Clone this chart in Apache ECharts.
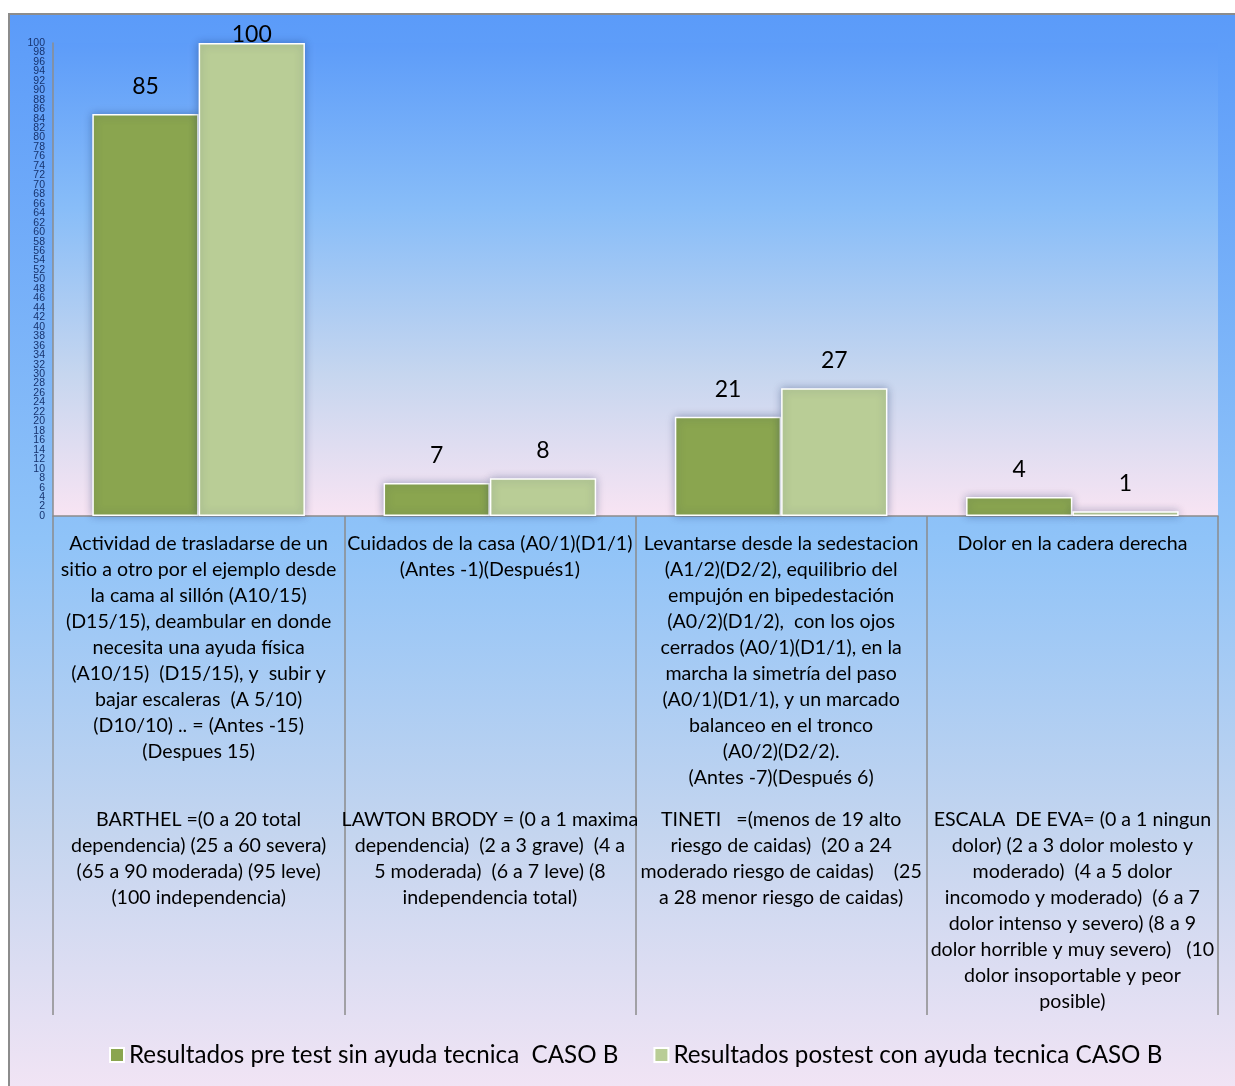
<!DOCTYPE html>
<html>
<head>
<meta charset="utf-8">
<script src="https://cdn.jsdelivr.net/npm/echarts@6/dist/echarts.min.js"></script>
<style>
  html, body { margin: 0; padding: 0; background: #ffffff; }
  #frame {
    position: absolute; left: 8px; top: 13px; width: 1240px; height: 1090px;
    border-left: 2px solid #8c8c8c; border-top: 2px solid #8c8c8c;
    background: linear-gradient(to bottom, #5b9bf9 0%, #8fc3f8 48%, #c4d5ef 75%, #f4e5f5 100%);
  }
  #chart { position: absolute; left: 0; top: 0; width: 1235px; height: 1086px; }
</style>
</head>
<body>
<div id="frame"></div>
<div id="chart"></div>
<script>
// Activities evaluated (main label under each group of bars)
const categories = [
  "Actividad de trasladarse de un\nsitio a otro por el ejemplo desde\nla cama al sillón (A10/15)\n(D15/15), deambular en donde\nnecesita una ayuda física\n(A10/15)  (D15/15), y  subir y\nbajar escaleras  (A 5/10)\n(D10/10) .. = (Antes -15)\n(Despues 15)",
  "Cuidados de la casa (A0/1)(D1/1)\n(Antes -1)(Después1)",
  "Levantarse desde la sedestacion\n(A1/2)(D2/2), equilibrio del\nempujón en bipedestación\n(A0/2)(D1/2),  con los ojos\ncerrados (A0/1)(D1/1), en la\nmarcha la simetría del paso\n(A0/1)(D1/1), y un marcado\nbalanceo en el tronco\n(A0/2)(D2/2).\n(Antes -7)(Después 6)",
  "Dolor en la cadera derecha"
];

// Scale used for each activity (second block of text)
const scales = [
  "BARTHEL =(0 a 20 total\ndependencia) (25 a 60 severa)\n(65 a 90 moderada) (95 leve)\n(100 independencia)",
  "LAWTON BRODY = (0 a 1 maxima\ndependencia)  (2 a 3 grave)  (4 a\n5 moderada)  (6 a 7 leve) (8\nindependencia total)",
  "TINETI   =(menos de 19 alto\nriesgo de caidas)  (20 a 24\nmoderado riesgo de caidas)    (25\na 28 menor riesgo de caidas)",
  "ESCALA  DE EVA= (0 a 1 ningun\ndolor) (2 a 3 dolor molesto y\nmoderado)  (4 a 5 dolor\nincomodo y moderado)  (6 a 7\ndolor intenso y severo) (8 a 9\ndolor horrible y muy severo)   (10\ndolor insoportable y peor\nposible)"
];

const seriesNames = [
  "Resultados pre test sin ayuda tecnica  CASO B",
  "Resultados postest con ayuda tecnica CASO B"
];
const preTest = [85, 7, 21, 4];
const postTest = [100, 8, 27, 1];

const yMin = 0, yMax = 100, yStep = 2;
// tick labels of the value scale, every 2 units from 0 to 100
const yTickLabels = [
  '0','2','4','6','8','10','12','14','16','18','20','22','24','26','28','30','32','34','36','38',
  '40','42','44','46','48','50','52','54','56','58','60','62','64','66','68','70','72','74','76','78',
  '80','82','84','86','88','90','92','94','96','98','100'
];

const FONT = 'Lato';
const chart = echarts.init(document.getElementById('chart'), null, { renderer: 'canvas' });

function toData(values) {
  // a label at the top of the scale sits lower so it stays inside the frame
  return values.map(v => v >= yMax ? { value: v, label: { distance: -3 } } : v);
}

const barStyle = (color) => ({
  color: color,
  borderColor: '#ffffff',
  borderWidth: 1.5,
  shadowColor: 'rgba(20,40,90,0.35)',
  shadowBlur: 8
});

const valueLabel = {
  show: true, position: 'top', distance: 16,
  fontFamily: FONT, fontSize: 23, color: '#000000'
};

const catLabel = {
  interval: 0, margin: 15, color: '#000000',
  fontFamily: FONT, fontSize: 19.6, lineHeight: 26, align: 'center'
};

chart.setOption({
  animation: false,
  backgroundColor: 'transparent',
  grid: {
    left: 53, right: 17, top: 43, bottom: 570,
    show: true, borderWidth: 0,
    backgroundColor: {
      type: 'linear', x: 0, y: 0, x2: 0, y2: 1,
      colorStops: [
        { offset: 0, color: '#5d9cf9' },
        { offset: 0.35, color: '#88bdf8' },
        { offset: 0.7, color: '#c6d6ef' },
        { offset: 1, color: '#f8e4f3' }
      ]
    }
  },
  legend: {
    bottom: 14, left: 104,
    itemWidth: 14, itemHeight: 14, itemGap: 35, icon: 'rect',
    textStyle: { fontFamily: FONT, fontSize: 24.2, color: '#000000' },
    data: seriesNames
  },
  xAxis: [
    {
      type: 'category', data: categories, position: 'bottom',
      axisLine: { show: true, lineStyle: { color: '#8c8c8c', width: 1.5 } },
      axisTick: { show: true, length: 499, alignWithLabel: false, lineStyle: { color: '#8c8c8c', width: 1.5 } },
      axisLabel: catLabel
    },
    {
      type: 'category', data: scales, position: 'bottom', offset: 276,
      axisLine: { show: false }, axisTick: { show: false },
      axisLabel: catLabel
    }
  ],
  yAxis: [
    {
      type: 'value', min: yMin, max: yMax, interval: yStep, position: 'left',
      axisLine: { show: true, lineStyle: { color: '#8c8c8c', width: 1.5 } },
      axisTick: { show: false },
      splitLine: { show: false },
      axisLabel: { show: false }
    },
    {
      // label-only scale so every tick label stays visible
      type: 'category', data: yTickLabels, boundaryGap: false, position: 'left',
      axisLine: { show: false }, axisTick: { show: false }, splitLine: { show: false },
      axisLabel: {
        interval: 0, margin: 8, color: '#17336e',
        fontFamily: 'Liberation Sans', fontSize: 10.5
      }
    }
  ],
  series: [
    {
      name: seriesNames[0], type: 'bar', xAxisIndex: 0, yAxisIndex: 0,
      data: toData(preTest), barGap: '0%', barCategoryGap: '27%',
      itemStyle: barStyle('#8aa54f'), label: valueLabel
    },
    {
      name: seriesNames[1], type: 'bar', xAxisIndex: 0, yAxisIndex: 0,
      data: toData(postTest), barGap: '0%', barCategoryGap: '27%',
      itemStyle: barStyle('#b9cd96'), label: valueLabel
    }
  ]
});
</script>
</body>
</html>
